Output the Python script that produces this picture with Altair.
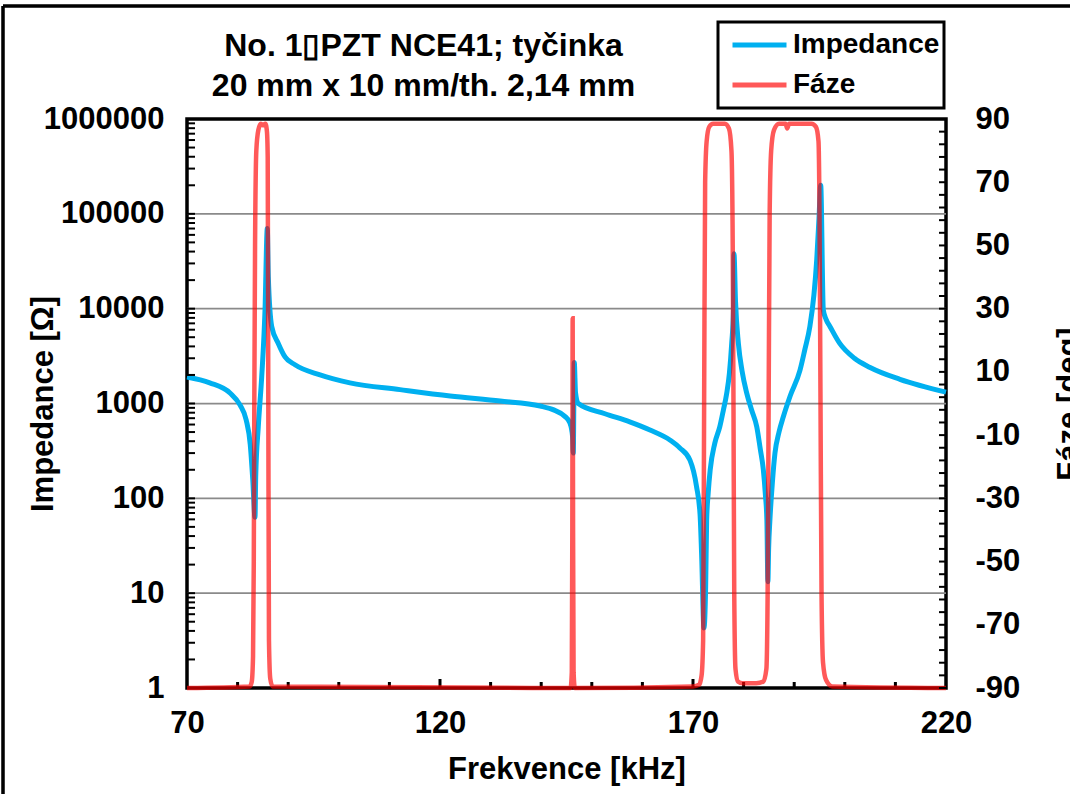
import altair as alt
import pandas as pd

# ---------------- data ----------------
imp_freq = [70.0, 74.5, 78.5, 80.5, 81.7, 82.5, 83.0, 83.44, 83.58, 84.09, 84.76, 85.42, 85.87,
            86.07, 86.74, 88.04, 89.37, 91.34, 96.3, 102.2, 112.1, 122.0, 131.9, 139.8, 144.7,
            145.7, 146.2, 146.34, 146.54, 146.78, 147.33, 152.6, 157.5, 161.5, 165.5, 167.4,
            169.4, 170.7, 171.4, 171.7, 172.17, 172.5, 172.7, 173.0, 173.4, 174.3, 175.3,
            176.0, 176.66, 177.2, 177.65, 178.0, 178.1, 178.4, 178.97, 179.7, 180.63, 181.6,
            182.6, 183.3, 183.9, 184.3, 184.6, 184.8, 184.95, 185.2, 185.7, 186.2, 187.0,
            187.85, 189.2, 191.15, 192.1, 193.1, 193.9, 194.45, 194.9, 195.24, 195.75, 196.3,
            197.06, 199.0, 201.9, 205.0, 210.9, 220.0]
imp_ohm = [1900, 1650, 1290, 960, 670, 370, 156, 63, 170, 570, 1900, 9700, 70000,
           21800, 6500, 4300, 3100, 2560, 2000, 1650, 1400, 1200, 1060, 940, 730,
           620, 450, 300, 2700, 1300, 1000, 780, 640, 525, 410, 340,
           253, 133, 67, 26, 4.3, 11.7, 59, 113, 200, 380, 570,
           850, 1280, 2100, 4300, 9700, 38000, 12000, 4300, 2200, 1280, 850,
           570, 330, 200, 110, 59, 13.2, 30, 59, 150, 300, 500,
           725, 1200, 2250, 3700, 6500, 14000, 32600, 90000, 200000, 9700, 7700,
           6500, 4300, 3000, 2400, 1800, 1320]

ph_freq = [70.0, 82.4, 82.8, 83.05, 83.2, 83.3, 83.45, 83.7, 84.1, 84.6, 85.0, 85.5, 85.8, 85.95,
           86.07, 86.2, 86.45, 86.9,
           145.8, 146.05, 146.15, 146.22, 146.3, 146.4, 146.65,
           170.0, 171.2, 171.7, 172.0, 172.2, 172.4, 172.7, 173.2, 174.0, 176.3, 177.1, 177.6,
           177.85, 178.0, 178.15, 178.4, 178.9, 179.8, 182.5, 183.9, 184.5, 184.75, 184.95,
           185.15, 185.45, 186.0, 187.0, 188.3, 188.6, 189.0, 193.4, 194.3, 194.8, 195.0,
           195.2, 195.4, 195.7, 196.3, 197.5, 220.0]
ph_deg = [-90, -89.5, -88, -80, -50, 0, 50, 80, 86.5, 88.5, 88, 88.5, 86, 78,
          0, -75, -87, -89.5,
          -90, -85, -40, 27, -40, -85, -90,
          -89.5, -89, -86, -75, 0, 70, 83, 87.5, 88.5, 88.5, 87, 80,
          50, 0, -60, -84, -88, -88.5, -88.5, -88, -84, -60, 0,
          60, 80, 86.5, 88.5, 88.5, 87, 88.5, 88.5, 87.5, 83, 60,
          0, -60, -82, -87.5, -89.5, -90]

series_names = ["Impedance", "Fáze"]
series_colors = ["#00B0F0", "#FF0000"]
series_opacity = [1.0, 0.65]

x_labels = [70, 120, 170, 220]
x_minor = [80, 90, 100, 110, 130, 140, 150, 160, 180, 190, 200, 210]
x_major_inner = [120, 170]
imp_labels = [1, 10, 100, 1000, 10000, 100000, 1000000]
imp_grid = [10, 100, 1000, 10000, 100000]
imp_minor = [m * d for d in [1, 10, 100, 1000, 10000, 100000] for m in range(2, 10)]
ph_labels = [-90, -70, -50, -30, -10, 10, 30, 50, 70, 90]
ph_minor = list(range(-90, 91, 4))

title_lines = ["No. 1\u25AFPZT NCE41; tyčinka", "20 mm x 10 mm/th. 2,14 mm"]

# ---------------- tables ----------------
imp_df = pd.DataFrame({"f": imp_freq, "z": imp_ohm, "series": series_names[0]})
ph_df = pd.DataFrame({"f": ph_freq, "p": ph_deg, "series": series_names[1]})

W, H = 759, 569
PAD_L, PAD_T, PAD_R, PAD_B = 187, 119, 124, 106
FONT = "Liberation Sans"

x_scale = alt.Scale(domain=[70, 220], nice=False, zero=False)
z_scale = alt.Scale(type="log", domain=[1, 1000000], nice=False)
p_scale = alt.Scale(domain=[-90, 90], nice=False, zero=False)

common = dict(labelFont=FONT, labelFontSize=31, labelFontWeight="bold", labelColor="black",
              titleFont=FONT, titleFontSize=31, titleFontWeight="bold", titleColor="black",
              ticks=False, domain=False, grid=False, labelFlush=False, labelOverlap=False)

x_axis = alt.Axis(values=x_labels, title="Frekvence [kHz]", labelPadding=20, titlePadding=16, **common)
z_axis = alt.Axis(values=imp_labels, format="d", orient="left", title="Impedance [Ω]",
                  labelPadding=23, titleAngle=270, titleX=-128, titleY=H / 2,
                  titleAlign="center", titleBaseline="bottom", **common)
p_axis = alt.Axis(values=ph_labels, orient="right", title="Fáze [deg]", labelPadding=29,
                  labelExpr="'' + datum.value",
                  titleAngle=270, titleX=108, titleY=H / 2, titleAlign="center",
                  titleBaseline="top", **common)

legend = alt.Legend(title=None, orient="none", legendX=531, legendY=-97, direction="vertical",
                    symbolType="stroke", symbolStrokeWidth=5, symbolSize=2916, clipHeight=38,
                    symbolOffset=8,
                    labelFont=FONT, labelFontSize=28, labelFontWeight="bold", labelColor="black",
                    labelOffset=4, rowPadding=2, padding=4, strokeColor="black",
                    fillColor="white", cornerRadius=0)

color = alt.Color("series:N", scale=alt.Scale(domain=series_names, range=series_colors), legend=legend)
opacity = alt.Opacity("series:N", scale=alt.Scale(domain=series_names, range=series_opacity), legend=legend)

grid_df = pd.DataFrame({"v": imp_grid})
zminor_df = pd.DataFrame({"v": imp_minor + imp_labels})
xminor_df = pd.DataFrame({"v": x_minor})
xmajor_df = pd.DataFrame({"v": x_major_inner})
pminor_df = pd.DataFrame({"v": ph_minor})

grid = alt.Chart(grid_df).mark_rule(color="#8A8A8A", strokeWidth=1.75).encode(
    y=alt.Y("v:Q", scale=z_scale, axis=z_axis), x=alt.value(0), x2=alt.value(W))

imp_line = alt.Chart(imp_df).mark_line(strokeWidth=5, interpolate="monotone", clip=False).encode(
    x=alt.X("f:Q", scale=x_scale, axis=x_axis),
    y=alt.Y("z:Q", scale=z_scale, axis=z_axis),
    color=color, opacity=opacity)

z_ticks = alt.Chart(zminor_df).mark_rule(color="black", strokeWidth=2).encode(
    y=alt.Y("v:Q", scale=z_scale, axis=z_axis), x=alt.value(0), x2=alt.value(8))

x_ticks = alt.Chart(xminor_df).mark_rule(color="black", strokeWidth=3).encode(
    x=alt.X("v:Q", scale=x_scale, axis=x_axis), y=alt.value(H), y2=alt.value(H - 6))
x_ticks_major = alt.Chart(xmajor_df).mark_rule(color="black", strokeWidth=3).encode(
    x=alt.X("v:Q", scale=x_scale, axis=x_axis), y=alt.value(H), y2=alt.value(H - 9))

# chart-area border (top and left edges are visible in the cropped reference)
border_top = alt.Chart(grid_df).mark_rule(color="black", strokeWidth=2.5).encode(
    x=alt.value(-PAD_L + 3), x2=alt.value(W + PAD_R), y=alt.value(-PAD_T + 6))
border_left = alt.Chart(grid_df).mark_rule(color="black", strokeWidth=2.5).encode(
    x=alt.value(-PAD_L + 3), y=alt.value(-PAD_T + 6), y2=alt.value(H + PAD_B))

ph_line = alt.Chart(ph_df).mark_line(strokeWidth=4.5, interpolate="monotone", clip=False).encode(
    x=alt.X("f:Q", scale=x_scale, axis=x_axis),
    y=alt.Y("p:Q", scale=p_scale, axis=p_axis),
    color=color, opacity=opacity)

p_ticks = alt.Chart(pminor_df).mark_rule(color="black", strokeWidth=2).encode(
    y=alt.Y("v:Q", scale=p_scale, axis=p_axis), x=alt.value(W), x2=alt.value(W - 7))

left = alt.layer(grid, imp_line, z_ticks, x_ticks, x_ticks_major, border_top, border_left)
right = alt.layer(ph_line, p_ticks)

chart = alt.layer(left, right).resolve_scale(y="independent").properties(
    width=W, height=H,
    autosize=alt.AutoSizeParams(type="none"),
    padding={"left": PAD_L, "top": PAD_T, "right": PAD_R, "bottom": PAD_B},
    background="white",
    title=alt.TitleParams(text=title_lines, font=FONT, fontSize=32, fontWeight="bold",
                          color="black", anchor="middle", dx=-143, dy=120, offset=22, lineHeight=40),
).configure_view(stroke="black", strokeWidth=3.5).configure_legend(strokeWidth=3)

chart.save("out.html", embed_options={"renderer": "svg", "actions": False})
